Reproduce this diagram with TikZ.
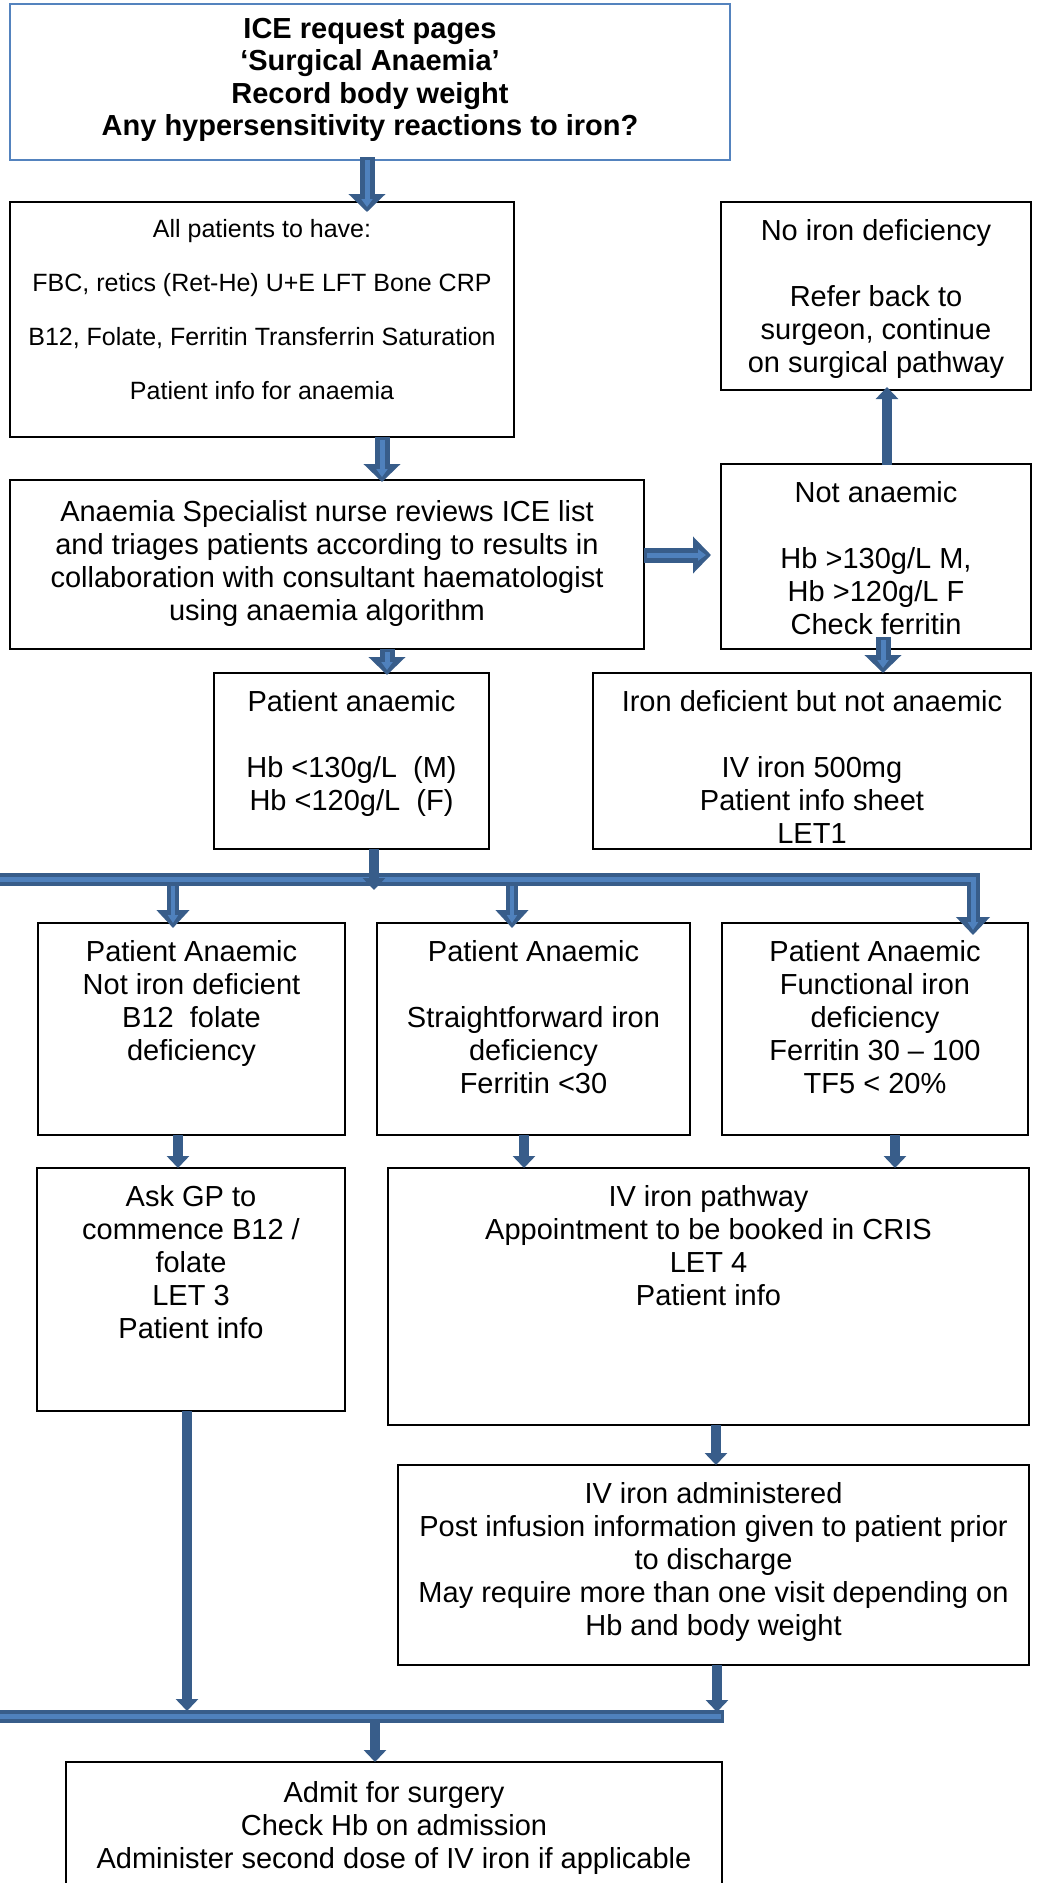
\documentclass[tikz,border=0pt]{standalone}
\usepackage{fontspec}
\setmainfont{Liberation Sans}
\usetikzlibrary{arrows.meta,calc}
\definecolor{adark}{RGB}{56,93,138}
\definecolor{alight}{RGB}{79,129,189}
\definecolor{topblue}{RGB}{84,131,190}
\newcommand{\bodyfont}{\fontsize{29}{33}\selectfont}
\newcommand{\smallfont}{\fontsize{25}{27}\selectfont}
\newcommand{\topfont}{\fontsize{29}{32.5}\selectfont\bfseries}
\newcommand{\tbox}[5]{\parbox[c][#2pt][t]{#1pt}{\centering#4\rule{0pt}{#3pt}#5}}
\newcommand{\blankline}{\mbox{}}
\tikzset{
  box/.style={draw=black, line width=2pt, inner sep=0pt, outer sep=0pt, fill=white, anchor=north west},
  fat/.style={draw=adark, line width=15pt, -{Triangle[width=36pt,length=18pt]}},
  fatin/.style={draw=alight, line width=5pt, shorten <=3pt, shorten >=5pt, -{Triangle[width=11pt,length=8pt]}},
  fatbar/.style={draw=adark, line width=12pt, -{Triangle[width=32pt,length=18pt]}},
  fatbarin/.style={draw=alight, line width=4.5pt, shorten <=7pt, shorten >=5pt, -{Triangle[width=10pt,length=8pt]}},
  bardark/.style={draw=adark, line width=13pt},
  barlight/.style={draw=alight, line width=5pt},
  thin/.style={draw=adark, line width=10pt, -{Triangle[width=22pt,length=12pt]}}
}
\begin{document}
\begin{tikzpicture}[x=1pt,y=-1pt]
\useasboundingbox (0,0) rectangle (1045,1883);
% boxes
\node[box, draw=topblue, line width=1.5pt] (top) at (10,4) {\tbox{720}{156}{34.4}{\topfont}{ICE request pages\\‘Surgical Anaemia’\\Record body weight\\Any hypersensitivity reactions to iron?}};
\node[box] (allp) at (10,202) {\tbox{504}{235}{35}{\smallfont}{All patients to have:\\\blankline\\FBC, retics (Ret-He) U+E LFT Bone CRP\\\blankline\\B12, Folate, Ferritin Transferrin Saturation\\\blankline\\Patient info for anaemia}};
\node[box] (noiron) at (721,202) {\tbox{310}{188}{38.4}{\bodyfont}{No iron deficiency\\\blankline\\Refer back to\\surgeon, continue\\on surgical pathway}};
\node[box] (spec) at (10,480) {\tbox{634}{169}{41}{\bodyfont}{Anaemia Specialist nurse reviews ICE list\\and triages patients according to results in\\collaboration with consultant haematologist\\using anaemia algorithm}};
\node[box] (notan) at (721,464) {\tbox{310}{185}{38.4}{\bodyfont}{Not anaemic\\\blankline\\Hb >130g/L M,\\Hb >120g/L F\\Check ferritin}};
\node[box] (patan) at (214,673) {\tbox{275}{176}{38.4}{\bodyfont}{Patient anaemic\\\blankline\\Hb <130g/L\ \ (M)\\Hb <120g/L\ \ (F)}};
\node[box] (irondef) at (593,673) {\tbox{438}{176}{38.4}{\bodyfont}{Iron deficient but not anaemic\\\blankline\\IV iron 500mg\\Patient info sheet\\LET1}};
\node[box] (pa) at (38,923) {\tbox{307}{212}{38.4}{\bodyfont}{Patient Anaemic\\Not iron deficient\\B12\ \ folate\\deficiency}};
\node[box] (pb) at (377,923) {\tbox{313}{212}{38.4}{\bodyfont}{Patient Anaemic\\\blankline\\Straightforward iron\\deficiency\\Ferritin <30}};
\node[box] (pc) at (722,923) {\tbox{306}{212}{38.4}{\bodyfont}{Patient Anaemic\\Functional iron\\deficiency\\Ferritin 30 – 100\\TF5 < 20\%}};
\node[box] (gp) at (37,1168) {\tbox{308}{243}{38.4}{\bodyfont}{Ask GP to\\commence B12 /\\folate\\LET 3\\Patient info}};
\node[box] (ivp) at (388,1168) {\tbox{641}{257}{38.4}{\bodyfont}{IV iron pathway\\Appointment to be booked in CRIS\\LET 4\\Patient info}};
\node[box] (iva) at (398,1465) {\tbox{631}{200}{38.4}{\bodyfont}{IV iron administered\\Post infusion information given to patient prior\\to discharge\\May require more than one visit depending on\\Hb and body weight}};
\node[box] (adm) at (66,1762) {\tbox{656}{123}{40}{\bodyfont}{Admit for surgery\\Check Hb on admission\\Administer second dose of IV iron if applicable}};
% connector positions
\coordinate (c1) at (367,0);
\coordinate (c2) at (382,0);
\coordinate (c3) at (387,0);
\coordinate (cup) at (887,0);
\coordinate (cna) at (883,0);
\coordinate (cstub) at (374,0);
\coordinate (ca) at (173,0);
\coordinate (cb) at (512,0);
\coordinate (ca2) at (178,0);
\coordinate (cb2) at (524,0);
\coordinate (cc2) at (895,0);
\coordinate (civ) at (716,0);
\coordinate (cl) at (187,0);
\coordinate (cr) at (717,0);
\coordinate (cf) at (375,0);
\coordinate (r1) at (0,555);
\coordinate (bar1L) at (0,879);
\coordinate (bar1R) at (973,879);
\coordinate (bar2L) at (0,1716);
\coordinate (bar2R) at (724,1716);
% fat arrows
\draw[fat] ($(top.south -| c1)+(0,-3)$) -- ($(allp.north -| c1)+(0,10)$);
\draw[fatin] ($(top.south -| c1)+(0,-3)$) -- ($(allp.north -| c1)+(0,10)$);
\draw[fat] (allp.south -| c2) -- ($(spec.north -| c2)+(0,2)$);
\draw[fatin] (allp.south -| c2) -- ($(spec.north -| c2)+(0,2)$);
\draw[fat] (spec.east |- r1) -- ($(notan.west |- r1)+(-10,0)$);
\draw[fatin] (spec.east |- r1) -- ($(notan.west |- r1)+(-10,0)$);
\draw[fat] (spec.south -| c3) -- ($(patan.north -| c3)+(0,2)$);
\draw[fatin] (spec.south -| c3) -- ($(patan.north -| c3)+(0,2)$);
\draw[fat] ($(notan.south -| cna)+(0,-12)$) -- (irondef.north -| cna);
\draw[fatin] ($(notan.south -| cna)+(0,-12)$) -- (irondef.north -| cna);
% branch arrows from upper bar
\draw[fatbar] (bar1L -| ca) -- ($(pa.north -| ca)+(0,5)$);
\draw[fatbarin] (bar1L -| ca) -- ($(pa.north -| ca)+(0,5)$);
\draw[fatbar] (bar1L -| cb) -- ($(pb.north -| cb)+(0,5)$);
\draw[fatbarin] (bar1L -| cb) -- ($(pb.north -| cb)+(0,5)$);
% upper bar with elbow to pc
\draw[bardark, -{Triangle[width=33pt,length=18pt]}] (bar1L) -- (bar1R) -- ($(pc.north -| bar1R)+(0,12)$);
\draw[barlight, shorten >=5pt, -{Triangle[width=10pt,length=8pt]}] (bar1L) -- (bar1R) -- ($(pc.north -| bar1R)+(0,12)$);
% lower bar
\draw[bardark] (bar2L) -- (bar2R);
\draw[barlight, shorten >=3pt] (bar2L) -- (bar2R);
% thin arrows
\draw[thin] ($(notan.north -| cup)+(0,1)$) -- ($(noiron.south -| cup)+(0,-3)$);
\draw[thin] (patan.south -| cstub) -- ($(bar1L -| cstub)+(0,11)$);
\draw[thin] (pa.south -| ca2) -- (gp.north -| ca2);
\draw[thin] (pb.south -| cb2) -- (ivp.north -| cb2);
\draw[thin] (pc.south -| cc2) -- (ivp.north -| cc2);
\draw[thin] (ivp.south -| civ) -- (iva.north -| civ);
\draw[thin] (gp.south -| cl) -- ($(bar2L -| cl)+(0,-5)$);
\draw[thin] (iva.south -| cr) -- ($(bar2L -| cr)+(0,-4)$);
\draw[thin] ($(bar2L -| cf)+(0,6)$) -- (adm.north -| cf);
\end{tikzpicture}
\end{document}
